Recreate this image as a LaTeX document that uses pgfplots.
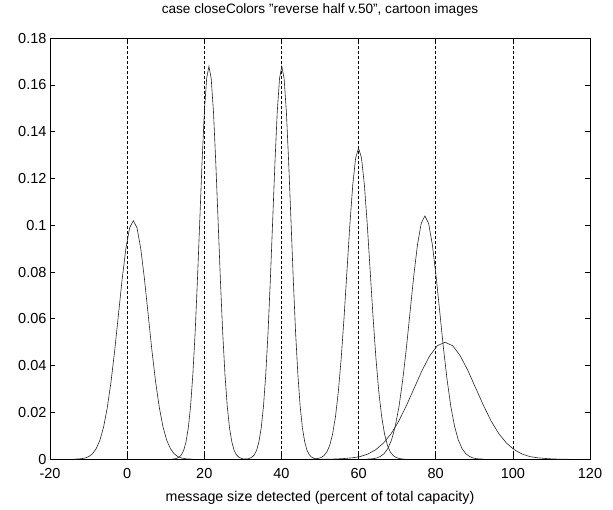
\documentclass[border=0pt]{standalone}
\usepackage{pgfplots}
\pgfplotsset{compat=1.18}
\usepackage{fontspec}
\setmainfont{Liberation Sans}
\begin{document}
\begin{tikzpicture}[x=1pt,y=1pt]
\begin{axis}[
  name=ax,
  scale only axis,
  width=540pt, height=421pt,
  xmin=-20, xmax=120, ymin=0, ymax=0.18,
  xtick={-20,0,20,40,60,80,100,120},
  xticklabels={-20,0,20,40,60,80,100,120},
  ytick={0,0.02,0.04,0.06,0.08,0.1,0.12,0.14,0.16,0.18},
  yticklabels={0,0.02,0.04,0.06,0.08,0.1,0.12,0.14,0.16,0.18},
  tick align=inside, tick pos=both,
  major tick length=5pt,
  axis line style={line width=0.8pt},
  every tick/.style={black, line width=0.7pt},
  tick label style={font=\fontsize{14.5}{16}\selectfont},
  xticklabel style={anchor=base, yshift=-19pt},
  yticklabel style={anchor=east, xshift=0pt},
  /pgf/number format/assume math mode=true,
  title={case closeColors "reverse half v.50", cartoon images},
  title style={font=\fontsize{13.6}{16}\selectfont, at={(axis description cs:0.5,1)}, anchor=base, yshift=19pt},
  xlabel={message size detected (percent of total capacity)},
  xlabel style={font=\fontsize{14.2}{16}\selectfont, at={(axis description cs:0.5,0)}, anchor=base, yshift=-42pt},
  clip=true,
]
% dashed reference lines
\addplot[black, line width=0.6pt, dash pattern=on 3pt off 2pt] coordinates {(0,0) (0,0.18)};
\addplot[black, line width=0.6pt, dash pattern=on 3pt off 2pt] coordinates {(20,0) (20,0.18)};
\addplot[black, line width=0.6pt, dash pattern=on 3pt off 2pt] coordinates {(40,0) (40,0.18)};
\addplot[black, line width=0.6pt, dash pattern=on 3pt off 2pt] coordinates {(60,0) (60,0.18)};
\addplot[black, line width=0.6pt, dash pattern=on 3pt off 2pt] coordinates {(80,0) (80,0.18)};
\addplot[black, line width=0.6pt, dash pattern=on 3pt off 2pt] coordinates {(100,0) (100,0.18)};
% curve 1
\addplot[black!85, line width=0.6pt] coordinates {
(-13.8,0.0000) (-12.84,0.0001) (-11.88,0.0002) (-10.91,0.0005) (-9.95,0.0011) (-8.99,0.0023) (-8.03,0.0045) (-7.06,0.0081) (-6.1,0.0138) (-5.14,0.0221) (-4.18,0.0331) (-3.21,0.0467) (-2.25,0.0619) (-1.29,0.0770) (-0.33,0.0900) (0.64,0.0989) (1.6,0.1020) (2.56,0.0989) (3.53,0.0900) (4.49,0.0770) (5.45,0.0619) (6.41,0.0467) (7.38,0.0331) (8.34,0.0221) (9.3,0.0138) (10.26,0.0081) (11.23,0.0045) (12.19,0.0023) (13.15,0.0011) (14.11,0.0005) (15.08,0.0002) (16.04,0.0001) (17.0,0.0000)
};
% curve 2
\addplot[black!85, line width=0.6pt] coordinates {
(11.7,0.0001) (12.29,0.0001) (12.89,0.0004) (13.48,0.0009) (14.08,0.0019) (14.67,0.0038) (15.26,0.0074) (15.86,0.0134) (16.45,0.0227) (17.04,0.0363) (17.64,0.0545) (18.23,0.0769) (18.83,0.1019) (19.42,0.1268) (20.01,0.1483) (20.61,0.1628) (21.2,0.1680) (21.79,0.1628) (22.39,0.1483) (22.98,0.1268) (23.58,0.1019) (24.17,0.0769) (24.76,0.0545) (25.36,0.0363) (25.95,0.0227) (26.54,0.0134) (27.14,0.0074) (27.73,0.0038) (28.33,0.0019) (28.92,0.0009) (29.51,0.0004) (30.11,0.0001) (30.7,0.0001)
};
% curve 3
\addplot[black!85, line width=0.6pt] coordinates {
(30.6,0.0001) (31.19,0.0001) (31.79,0.0004) (32.38,0.0009) (32.98,0.0019) (33.57,0.0038) (34.16,0.0074) (34.76,0.0134) (35.35,0.0227) (35.94,0.0363) (36.54,0.0545) (37.13,0.0769) (37.73,0.1019) (38.32,0.1268) (38.91,0.1483) (39.51,0.1628) (40.1,0.1680) (40.69,0.1628) (41.29,0.1483) (41.88,0.1268) (42.48,0.1019) (43.07,0.0769) (43.66,0.0545) (44.26,0.0363) (44.85,0.0227) (45.44,0.0134) (46.04,0.0074) (46.63,0.0038) (47.23,0.0019) (47.82,0.0009) (48.41,0.0004) (49.01,0.0001) (49.6,0.0001)
};
% curve 4
\addplot[black!85, line width=0.6pt] coordinates {
(48,0.0000) (48.75,0.0001) (49.5,0.0003) (50.25,0.0007) (51,0.0015) (51.75,0.0030) (52.5,0.0058) (53.25,0.0106) (54,0.0180) (54.75,0.0288) (55.5,0.0432) (56.25,0.0609) (57,0.0807) (57.75,0.1004) (58.5,0.1174) (59.25,0.1289) (60,0.1330) (60.75,0.1289) (61.5,0.1174) (62.25,0.1004) (63,0.0807) (63.75,0.0609) (64.5,0.0432) (65.25,0.0288) (66,0.0180) (66.75,0.0106) (67.5,0.0058) (68.25,0.0030) (69,0.0015) (69.75,0.0007) (70.5,0.0003) (71.25,0.0001) (72,0.0000)
};
% curve 5
\addplot[black!85, line width=0.6pt] coordinates {
(61.84,0.0000) (62.8,0.0001) (63.76,0.0002) (64.72,0.0005) (65.68,0.0012) (66.64,0.0024) (67.6,0.0046) (68.56,0.0083) (69.52,0.0141) (70.48,0.0225) (71.44,0.0338) (72.4,0.0476) (73.36,0.0631) (74.32,0.0785) (75.28,0.0918) (76.24,0.1008) (77.2,0.1040) (78.16,0.1008) (79.12,0.0918) (80.08,0.0785) (81.04,0.0631) (82.0,0.0476) (82.96,0.0338) (83.92,0.0225) (84.88,0.0141) (85.84,0.0083) (86.8,0.0046) (87.76,0.0024) (88.72,0.0012) (89.68,0.0005) (90.64,0.0002) (91.6,0.0001) (92.56,0.0000)
};
% curve 6
\addplot[black!85, line width=0.6pt] coordinates {
(50.4,0.0000) (52.4,0.0000) (54.4,0.0001) (56.4,0.0003) (58.4,0.0006) (60.4,0.0011) (62.4,0.0022) (64.4,0.0040) (66.4,0.0068) (68.4,0.0108) (70.4,0.0162) (72.4,0.0229) (74.4,0.0303) (76.4,0.0377) (78.4,0.0441) (80.4,0.0485) (82.4,0.0500) (84.4,0.0485) (86.4,0.0441) (88.4,0.0377) (90.4,0.0303) (92.4,0.0229) (94.4,0.0162) (96.4,0.0108) (98.4,0.0068) (100.4,0.0040) (102.4,0.0022) (104.4,0.0011) (106.4,0.0006) (108.4,0.0003) (110.4,0.0001) (112.4,0.0000) (114.4,0.0000)
};
\end{axis}
\path ([xshift=-50pt,yshift=-50pt]ax.south west) rectangle ([xshift=23pt,yshift=35pt]ax.north east);
\end{tikzpicture}
\end{document}
